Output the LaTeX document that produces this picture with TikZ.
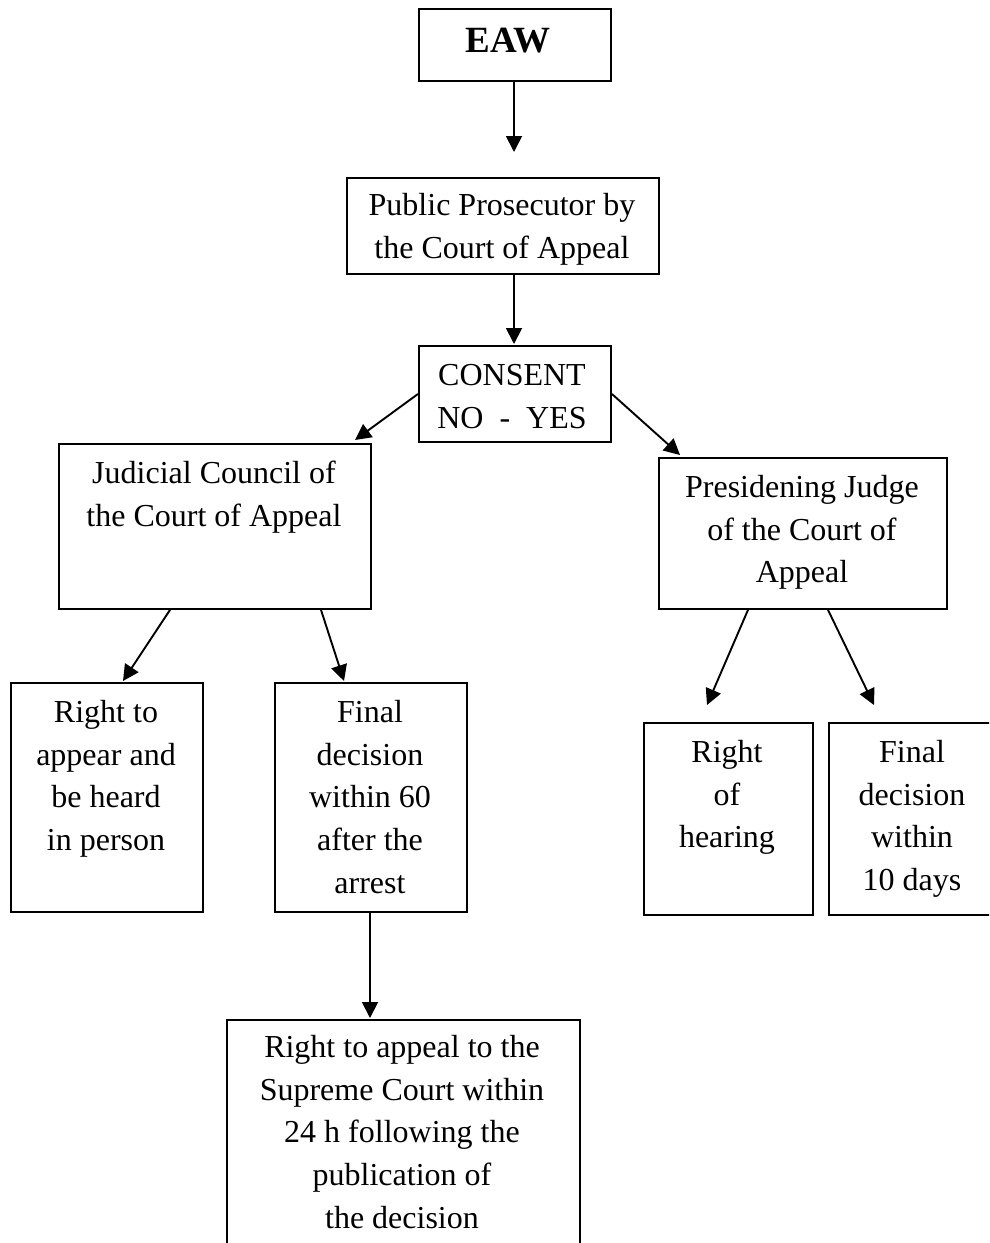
\documentclass[tikz,border=0pt]{standalone}
\usepackage{fontspec}
\setmainfont{Liberation Serif}
\usetikzlibrary{arrows.meta}
\begin{document}
\begin{tikzpicture}[x=1pt,y=-1pt,
  box/.style={draw, line width=1.9pt, inner sep=0pt, anchor=north west},
  txt/.style={anchor=north, inner sep=0pt, align=center, font=\fontsize{32}{42.7}\selectfont},
  arr/.style={line width=1.9pt, -{Triangle[length=16pt,width=16pt]}}]
\useasboundingbox (0,0) rectangle (989,1243);
\clip (0,0) rectangle (989,1243);
% boxes
\node[box, minimum width=192pt, minimum height=72pt]  (eaw)  at (418,8) {};
\node[box, minimum width=312pt, minimum height=96pt]  (pp)   at (346,177) {};
\node[box, minimum width=192pt, minimum height=96pt]  (cons) at (418,345) {};
\node[box, minimum width=312pt, minimum height=165pt] (jc)   at (58,443) {};
\node[box, minimum width=288pt, minimum height=151pt] (pj)   at (658,457) {};
\node[box, minimum width=192pt, minimum height=229pt] (ra)   at (10,682) {};
\node[box, minimum width=192pt, minimum height=229pt] (fd)   at (274,682) {};
\node[box, minimum width=169pt, minimum height=192pt] (rh)   at (643,722) {};
\node[box, minimum width=168pt, minimum height=192pt] (fdt)  at (828,722) {};
\node[box, minimum width=353pt, minimum height=260pt] (rap)  at (226,1019) {};
% texts
\node[anchor=north, inner sep=0pt, font=\fontsize{37}{44}\selectfont\bfseries] (eawt) at (508,28) {EAW};
\node[txt] (ppt)   at (502,193) {Public Prosecutor by\\the Court of Appeal};
\node[txt] (const) at (512,364) {CONSENT\\NO\ \ -\ \ YES};
\node[txt] (jct)   at (214,461) {Judicial Council of\\the Court of Appeal};
\node[txt] (pjt)   at (802,475) {Presidening Judge\\of the Court of\\Appeal};
\node[txt] (rat)   at (106,700) {Right to\\appear and\\be heard\\in person};
\node[txt] (fdtx)  at (370,700) {Final\\decision\\within 60\\after the\\arrest};
\node[txt] (rht)   at (727,740) {Right\\of\\hearing};
\node[txt] (fdtt)  at (912,740) {Final\\decision\\within\\10 days};
\node[txt] (rapt)  at (402,1035) {Right to appeal to the\\Supreme Court within\\24 h following the\\publication of\\the decision};
% arrow ends
\coordinate (t1) at (514,152);
\coordinate (t2) at (514,344);
\coordinate (t3) at (355,440);
\coordinate (t4) at (680,455);
\coordinate (t5) at (123,681);
\coordinate (t6) at (344,681);
\coordinate (t7) at (707,705);
\coordinate (t8) at (874,705);
\coordinate (t9) at (370,1018);
% arrows
\draw[arr] (eaw.south -| t1) -- (t1);
\draw[arr] (pp.south -| t2) -- (t2);
\draw[arr] (cons.west) -- (t3);
\draw[arr] (cons.east) -- (t4);
\draw[arr] ([xshift=112pt]jc.south west) -- (t5);
\draw[arr] ([xshift=263pt]jc.south west) -- (t6);
\draw[arr] ([xshift=90pt]pj.south west) -- (t7);
\draw[arr] ([xshift=170pt]pj.south west) -- (t8);
\draw[arr] (fd.south -| t9) -- (t9);
\end{tikzpicture}
\end{document}
